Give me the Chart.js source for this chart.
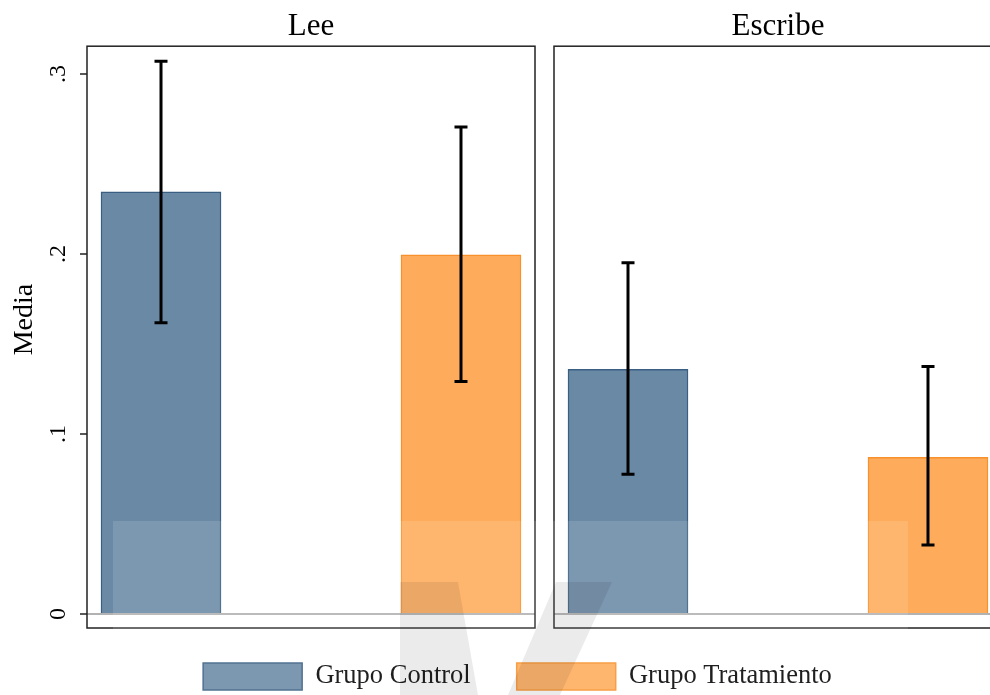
<!DOCTYPE html>
<html>
<head>
<meta charset="utf-8">
<script src="https://cdn.jsdelivr.net/npm/chart.js@4"></script>
<style>
html, body { margin: 0; padding: 0; background: #fff; overflow: hidden; width: 990px; height: 695px; }
#wrap { position: relative; width: 990px; height: 695px; overflow: hidden; background: #fff; }
canvas { position: absolute; }
#c1 { left: 0; top: 0; }
#c2 { left: 540px; top: 0; }
#cl { left: -2px; top: 617px; }
#wm { position: absolute; left: 113px; top: 521px; width: 795px; height: 174px; background: rgba(255,255,255,0.12); pointer-events: none; }
#wmsvg { position: absolute; left: 0; top: 0; pointer-events: none; }
</style>
</head>
<body>
<div id="wrap">
  <canvas id="c1" width="545" height="640"></canvas>
  <canvas id="c2" width="480" height="640"></canvas>
  <canvas id="cl" width="1039" height="280"></canvas>
  <div id="wm"></div>
  <svg id="wmsvg" width="990" height="695">
    <polygon points="400,582 458,582 478,695 400,695" fill="rgba(0,0,0,0.08)"/>
    <polygon points="556,582 612,582 560,695 508,695" fill="rgba(0,0,0,0.08)"/>
  </svg>
</div>
<script>
// ---- data ----
const panelTitles = ['Lee', 'Escribe'];
const groups = ['Grupo Control', 'Grupo Tratamiento'];
const leeMeans = [0.2346, 0.1996];
const leeLow = [0.1619, 0.1292];
const leeHigh = [0.3072, 0.2706];
const escribeMeans = [0.1359, 0.0871];
const escribeLow = [0.0776, 0.0383];
const escribeHigh = [0.1952, 0.1375];
const yTickValues = [0, 0.1, 0.2, 0.3];
const yTickLabels = ['0', '.1', '.2', '.3'];
const yTitle = 'Media';

// ---- styles ----
const FONT = '"Liberation Serif", "Times New Roman", serif';
const fills = ['#6a89a5', '#feac5b'];
const borders = ['#3a5f82', '#f8912c'];
const Y_MIN = -0.00776, Y_MAX = 0.3155;
const X_MIN = -0.2467, X_MAX = 1.2467;

const errorBars = {
  id: 'errorBars',
  afterDatasetsDraw(chart) {
    const { ctx } = chart;
    const y = chart.scales.y;
    ctx.save();
    ctx.strokeStyle = '#000';
    ctx.lineWidth = 3;
    chart.data.datasets.forEach((ds, i) => {
      const meta = chart.getDatasetMeta(i);
      meta.data.forEach((bar, j) => {
        const x = bar.x;
        const yl = y.getPixelForValue(ds.ciLow[j]);
        const yh = y.getPixelForValue(ds.ciHigh[j]);
        ctx.beginPath();
        ctx.moveTo(x, yl); ctx.lineTo(x, yh);
        ctx.moveTo(x - 6.5, yl); ctx.lineTo(x + 6.5, yl);
        ctx.moveTo(x - 6.5, yh); ctx.lineTo(x + 6.5, yh);
        ctx.stroke();
      });
    });
    ctx.restore();
  }
};

const panelFrame = {
  id: 'panelFrame',
  afterDraw(chart) {
    const { ctx, chartArea: a } = chart;
    ctx.save();
    ctx.strokeStyle = '#222';
    ctx.lineWidth = 1.5;
    ctx.strokeRect(a.left, a.top, a.right - a.left, a.bottom - a.top);
    ctx.restore();
  }
};

function makeDatasets(means, low, high) {
  return groups.map((g, i) => ({
    label: g,
    data: [{ x: i, y: means[i] }],
    ciLow: [low[i]],
    ciHigh: [high[i]],
    backgroundColor: fills[i],
    borderColor: borders[i],
    borderWidth: 1.5,
    barThickness: 120,
    grouped: false
  }));
}

function panelOptions(title, withAxis, padding) {
  return {
    responsive: false,
    animation: false,
    layout: { padding: padding },
    plugins: {
      legend: { display: false },
      tooltip: { enabled: false },
      title: {
        display: true, text: title, fullSize: false, color: '#000',
        font: { family: FONT, size: 31, weight: 'normal' },
        padding: { top: 8, bottom: 1 }
      }
    },
    scales: {
      x: { type: 'linear', display: false, offset: false, min: X_MIN, max: X_MAX },
      y: {
        type: 'linear', min: Y_MIN, max: Y_MAX, position: 'left',
        afterBuildTicks: s => { s.ticks = yTickValues.map(v => ({ value: v })); },
        afterFit: s => {
          s.width = withAxis ? 87 : 0;
          s.paddingTop = 0; s.paddingBottom = 0; s.paddingLeft = 0; s.paddingRight = 0;
        },
        border: { display: false },
        grid: {
          drawOnChartArea: true,
          drawTicks: withAxis,
          tickLength: withAxis ? 7 : 0,
          color: c => (c.tick && c.tick.value === 0) ? '#b2b2b2' : 'rgba(0,0,0,0)',
          lineWidth: 2,
          tickColor: '#222',
          tickWidth: 1.5
        },
        ticks: {
          display: withAxis,
          autoSkip: false,
          minRotation: 90, maxRotation: 90,
          crossAlign: 'center',
          padding: 12,
          color: '#000',
          font: { family: FONT, size: 24 },
          callback: (v) => {
            const k = yTickValues.findIndex(t => Math.abs(t - v) < 1e-9);
            return k >= 0 ? yTickLabels[k] : '';
          }
        },
        title: {
          display: withAxis, text: '     ' + yTitle, color: '#000',
          font: { family: FONT, size: 28 },
          padding: { top: 8, bottom: 0 }
        }
      }
    }
  };
}

new Chart(document.getElementById('c1'), {
  type: 'bar',
  data: { datasets: makeDatasets(leeMeans, leeLow, leeHigh) },
  options: panelOptions(panelTitles[0], true, { left: 0, right: 10, top: 0, bottom: 12 }),
  plugins: [errorBars, panelFrame]
});

new Chart(document.getElementById('c2'), {
  type: 'bar',
  data: { datasets: makeDatasets(escribeMeans, escribeLow, escribeHigh) },
  options: panelOptions(panelTitles[1], false, { left: 14, right: 18, top: 0, bottom: 12 }),
  plugins: [errorBars, panelFrame]
});

new Chart(document.getElementById('cl'), {
  type: 'bar',
  data: {
    labels: [],
    datasets: groups.map((g, i) => ({
      label: g, data: [], backgroundColor: fills[i], borderColor: borders[i], borderWidth: 1.5
    }))
  },
  options: {
    responsive: false,
    animation: false,
    layout: { padding: 0 },
    scales: { x: { display: false }, y: { display: false } },
    plugins: {
      tooltip: { enabled: false },
      legend: {
        position: 'top',
        onClick: null,
        labels: {
          boxWidth: 99, boxHeight: 27, padding: 46, color: '#000',
          font: { family: FONT, size: 26.5 }
        }
      }
    }
  }
});
</script>
</body>
</html>
